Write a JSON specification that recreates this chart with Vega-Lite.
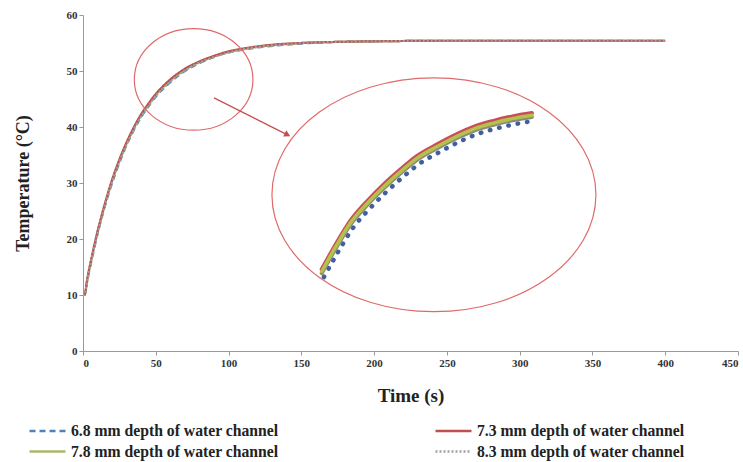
{
  "$schema": "https://vega.github.io/schema/vega-lite/v6.json",
  "width": 655,
  "height": 336,
  "autosize": "none",
  "padding": {"left": 83, "top": 15, "right": 5, "bottom": 111},
  "background": "white",
  "config": {
    "view": {"stroke": null},
    "font": "Liberation Serif",
    "legend": {"orient": "none", "legendX": -55, "legendY": 405, "columns": 2, "columnPadding": 151, "rowPadding": 2, "symbolType": "M-1,0L3,0", "symbolSize": 324, "symbolStrokeWidth": 2.5, "labelOffset": 22, "labelFont": "Liberation Serif", "labelFontWeight": "bold", "labelFontSize": 15.7, "labelColor": "#222", "labelLimit": 0, "title": null}
  },
  "datasets": {
    "main": [
      {"t":0,"T":10,"s":"6.8"},{"t":1,"T":10,"s":"6.8"},{"t":3,"T":12.6,"s":"6.8"},{"t":5,"T":15.1,"s":"6.8"},{"t":7,"T":17.5,"s":"6.8"},{"t":10,"T":20.9,"s":"6.8"},{"t":13,"T":23.9,"s":"6.8"},{"t":16,"T":26.7,"s":"6.8"},{"t":20,"T":30.0,"s":"6.8"},{"t":25,"T":33.6,"s":"6.8"},{"t":30,"T":36.8,"s":"6.8"},{"t":35,"T":39.5,"s":"6.8"},{"t":40,"T":41.8,"s":"6.8"},{"t":45,"T":43.7,"s":"6.8"},{"t":50,"T":45.4,"s":"6.8"},{"t":55,"T":46.8,"s":"6.8"},{"t":60,"T":48.0,"s":"6.8"},{"t":70,"T":50.0,"s":"6.8"},{"t":80,"T":51.4,"s":"6.8"},{"t":90,"T":52.5,"s":"6.8"},{"t":100,"T":53.3,"s":"6.8"},{"t":110,"T":53.8,"s":"6.8"},{"t":120,"T":54.2,"s":"6.8"},{"t":135,"T":54.6,"s":"6.8"},{"t":150,"T":54.9,"s":"6.8"},{"t":175,"T":55.2,"s":"6.8"},{"t":200,"T":55.3,"s":"6.8"},{"t":250,"T":55.4,"s":"6.8"},{"t":300,"T":55.4,"s":"6.8"},{"t":350,"T":55.4,"s":"6.8"},{"t":400,"T":55.4,"s":"6.8"},
      {"t":0,"T":10,"s":"7.8"},{"t":1,"T":10,"s":"7.8"},{"t":3,"T":12.8,"s":"7.8"},{"t":5,"T":15.4,"s":"7.8"},{"t":7,"T":17.8,"s":"7.8"},{"t":10,"T":21.2,"s":"7.8"},{"t":13,"T":24.2,"s":"7.8"},{"t":16,"T":27.0,"s":"7.8"},{"t":20,"T":30.4,"s":"7.8"},{"t":25,"T":34.0,"s":"7.8"},{"t":30,"T":37.1,"s":"7.8"},{"t":35,"T":39.8,"s":"7.8"},{"t":40,"T":42.1,"s":"7.8"},{"t":45,"T":44.0,"s":"7.8"},{"t":50,"T":45.7,"s":"7.8"},{"t":55,"T":47.1,"s":"7.8"},{"t":60,"T":48.3,"s":"7.8"},{"t":70,"T":50.2,"s":"7.8"},{"t":80,"T":51.6,"s":"7.8"},{"t":90,"T":52.6,"s":"7.8"},{"t":100,"T":53.4,"s":"7.8"},{"t":110,"T":53.9,"s":"7.8"},{"t":120,"T":54.3,"s":"7.8"},{"t":135,"T":54.7,"s":"7.8"},{"t":150,"T":55.0,"s":"7.8"},{"t":175,"T":55.2,"s":"7.8"},{"t":200,"T":55.3,"s":"7.8"},{"t":250,"T":55.4,"s":"7.8"},{"t":300,"T":55.4,"s":"7.8"},{"t":350,"T":55.4,"s":"7.8"},{"t":400,"T":55.4,"s":"7.8"},
      {"t":0,"T":10,"s":"7.3"},{"t":1,"T":10,"s":"7.3"},{"t":3,"T":13.0,"s":"7.3"},{"t":5,"T":15.6,"s":"7.3"},{"t":7,"T":18.0,"s":"7.3"},{"t":10,"T":21.4,"s":"7.3"},{"t":13,"T":24.4,"s":"7.3"},{"t":16,"T":27.2,"s":"7.3"},{"t":20,"T":30.6,"s":"7.3"},{"t":25,"T":34.2,"s":"7.3"},{"t":30,"T":37.3,"s":"7.3"},{"t":35,"T":40.0,"s":"7.3"},{"t":40,"T":42.3,"s":"7.3"},{"t":45,"T":44.2,"s":"7.3"},{"t":50,"T":45.9,"s":"7.3"},{"t":55,"T":47.3,"s":"7.3"},{"t":60,"T":48.5,"s":"7.3"},{"t":70,"T":50.4,"s":"7.3"},{"t":80,"T":51.7,"s":"7.3"},{"t":90,"T":52.7,"s":"7.3"},{"t":100,"T":53.5,"s":"7.3"},{"t":110,"T":54.0,"s":"7.3"},{"t":120,"T":54.4,"s":"7.3"},{"t":135,"T":54.8,"s":"7.3"},{"t":150,"T":55.0,"s":"7.3"},{"t":175,"T":55.2,"s":"7.3"},{"t":200,"T":55.3,"s":"7.3"},{"t":250,"T":55.4,"s":"7.3"},{"t":300,"T":55.4,"s":"7.3"},{"t":350,"T":55.4,"s":"7.3"},{"t":400,"T":55.4,"s":"7.3"},
      {"t":0,"T":10,"s":"8.3"},{"t":1,"T":10,"s":"8.3"},{"t":3,"T":12.7,"s":"8.3"},{"t":5,"T":15.3,"s":"8.3"},{"t":7,"T":17.7,"s":"8.3"},{"t":10,"T":21.0,"s":"8.3"},{"t":13,"T":24.0,"s":"8.3"},{"t":16,"T":26.9,"s":"8.3"},{"t":20,"T":30.2,"s":"8.3"},{"t":25,"T":33.8,"s":"8.3"},{"t":30,"T":36.9,"s":"8.3"},{"t":35,"T":39.6,"s":"8.3"},{"t":40,"T":41.9,"s":"8.3"},{"t":45,"T":43.8,"s":"8.3"},{"t":50,"T":45.5,"s":"8.3"},{"t":55,"T":46.9,"s":"8.3"},{"t":60,"T":48.1,"s":"8.3"},{"t":70,"T":50.1,"s":"8.3"},{"t":80,"T":51.5,"s":"8.3"},{"t":90,"T":52.5,"s":"8.3"},{"t":100,"T":53.3,"s":"8.3"},{"t":110,"T":53.9,"s":"8.3"},{"t":120,"T":54.3,"s":"8.3"},{"t":135,"T":54.7,"s":"8.3"},{"t":150,"T":55.0,"s":"8.3"},{"t":175,"T":55.2,"s":"8.3"},{"t":200,"T":55.3,"s":"8.3"},{"t":250,"T":55.4,"s":"8.3"},{"t":300,"T":55.4,"s":"8.3"},{"t":350,"T":55.4,"s":"8.3"},{"t":400,"T":55.4,"s":"8.3"}
    ],
    "inset": [
      {"t":165.5,"T":13.2,"s":"6.8"},{"t":175.5,"T":17.8,"s":"6.8"},{"t":185,"T":21.8,"s":"6.8"},{"t":196.5,"T":25.3,"s":"6.8"},{"t":208,"T":28.3,"s":"6.8"},{"t":219.5,"T":31.0,"s":"6.8"},{"t":231,"T":33.4,"s":"6.8"},{"t":245.5,"T":35.6,"s":"6.8"},{"t":260.5,"T":37.6,"s":"6.8"},{"t":271.5,"T":38.8,"s":"6.8"},{"t":283.5,"T":39.7,"s":"6.8"},{"t":296.5,"T":40.5,"s":"6.8"},{"t":310,"T":41.1,"s":"6.8"},
      {"t":164,"T":13.9,"s":"8.3"},{"t":174,"T":18.5,"s":"8.3"},{"t":183.5,"T":22.5,"s":"8.3"},{"t":195,"T":26.0,"s":"8.3"},{"t":206.4,"T":29.0,"s":"8.3"},{"t":218,"T":31.7,"s":"8.3"},{"t":229.3,"T":34.1,"s":"8.3"},{"t":244,"T":36.3,"s":"8.3"},{"t":259.1,"T":38.3,"s":"8.3"},{"t":270,"T":39.5,"s":"8.3"},{"t":282,"T":40.4,"s":"8.3"},{"t":295,"T":41.2,"s":"8.3"},{"t":308.4,"T":41.8,"s":"8.3"},
      {"t":164,"T":14.6,"s":"7.3"},{"t":174,"T":19.2,"s":"7.3"},{"t":183.5,"T":23.2,"s":"7.3"},{"t":195,"T":26.7,"s":"7.3"},{"t":206.4,"T":29.7,"s":"7.3"},{"t":218,"T":32.4,"s":"7.3"},{"t":229.3,"T":34.8,"s":"7.3"},{"t":244,"T":37.0,"s":"7.3"},{"t":259.1,"T":39.0,"s":"7.3"},{"t":270,"T":40.2,"s":"7.3"},{"t":282,"T":41.1,"s":"7.3"},{"t":295,"T":41.9,"s":"7.3"},{"t":308.4,"T":42.5,"s":"7.3"},
      {"t":164,"T":14.2,"s":"7.8"},{"t":174,"T":18.8,"s":"7.8"},{"t":183.5,"T":22.8,"s":"7.8"},{"t":195,"T":26.3,"s":"7.8"},{"t":206.4,"T":29.3,"s":"7.8"},{"t":218,"T":32.0,"s":"7.8"},{"t":229.3,"T":34.4,"s":"7.8"},{"t":244,"T":36.6,"s":"7.8"},{"t":259.1,"T":38.6,"s":"7.8"},{"t":270,"T":39.8,"s":"7.8"},{"t":282,"T":40.7,"s":"7.8"},{"t":295,"T":41.5,"s":"7.8"},{"t":308.4,"T":42.1,"s":"7.8"}
    ],
    "bigEllipse": [{"t": 241.1, "T": 27.9}],
    "smallEllipse": [{"t": 76.0, "T": 48.5}],
    "arrow": [{"t": 90.0, "T": 45.2, "t2": 140.5, "T2": 38.6}]
  },
  "encoding": {
    "x": {"field": "t", "type": "quantitative", "scale": {"domain": [0, 450], "nice": false, "zero": false}, "title": "Time (s)",
      "axis": {"values": [0, 50, 100, 150, 200, 250, 300, 350, 400, 450], "labelFont": "Liberation Serif", "labelFontWeight": "bold", "labelFontSize": 11, "labelColor": "#333", "domainColor": "#999", "tickColor": "#999", "tickSize": 4, "grid": false, "titleFont": "Liberation Serif", "titleFontWeight": "bold", "titleFontSize": 19, "titleColor": "#222", "titlePadding": 18}},
    "y": {"field": "T", "type": "quantitative", "scale": {"domain": [0, 60], "nice": false}, "title": "Temperature  (°C)",
      "axis": {"values": [0, 10, 20, 30, 40, 50, 60], "labelFont": "Liberation Serif", "labelFontWeight": "bold", "labelFontSize": 11, "labelColor": "#333", "domainColor": "#999", "tickColor": "#999", "tickSize": 4, "grid": false, "titleFont": "Liberation Serif", "titleFontWeight": "bold", "titleFontSize": 18, "titleColor": "#222", "titlePadding": 34}}
  },
  "layer": [
    {
      "data": {"name": "main"},
      "mark": {"type": "line", "strokeWidth": 2.2, "interpolate": "monotone"},
      "encoding": {
        "color": {"field": "s", "type": "nominal", "sort": ["6.8", "7.8", "7.3", "8.3"], "scale": {"domain": ["6.8", "7.8", "7.3", "8.3"], "range": ["#4F81BD", "#A9B86A", "#C0504D", "#A0A0A0"]}, "legend": {"labelExpr": "datum.label + ' mm depth of water channel'"}},
        "strokeDash": {"field": "s", "type": "nominal", "sort": ["6.8", "7.8", "7.3", "8.3"], "scale": {"domain": ["6.8", "7.8", "7.3", "8.3"], "range": [[6, 4], [1, 0], [1, 0], [2, 2]]}, "legend": {"labelExpr": "datum.label + ' mm depth of water channel'"}}
      }
    },
    {
      "data": {"name": "inset"},
      "transform": [{"filter": "datum.s == '6.8'"}],
      "mark": {"type": "line", "strokeWidth": 4.5, "strokeCap": "round", "strokeDash": [0.5, 9], "color": "#3F5F9F", "interpolate": "monotone"},
      "encoding": {}
    },
    {
      "data": {"name": "inset"},
      "transform": [{"filter": "datum.s == '8.3'"}],
      "mark": {"type": "line", "strokeWidth": 4, "strokeCap": "round", "color": "#8A8A7A", "interpolate": "monotone"},
      "encoding": {}
    },
    {
      "data": {"name": "inset"},
      "transform": [{"filter": "datum.s == '7.3'"}],
      "mark": {"type": "line", "strokeWidth": 4, "strokeCap": "round", "color": "#C84E5A", "interpolate": "monotone"},
      "encoding": {}
    },
    {
      "data": {"name": "inset"},
      "transform": [{"filter": "datum.s == '7.8'"}],
      "mark": {"type": "line", "strokeWidth": 3.5, "strokeCap": "round", "color": "#B5C24A", "interpolate": "monotone"},
      "encoding": {}
    },
    {
      "data": {"name": "bigEllipse"},
      "mark": {"type": "point", "shape": "M-1,0A1,0.722,0,1,1,1,0A1,0.722,0,1,1,-1,0Z", "size": 104976, "filled": false, "stroke": "#E06A6A", "strokeWidth": 1.2, "opacity": 1},
      "encoding": {}
    },
    {
      "data": {"name": "smallEllipse"},
      "mark": {"type": "point", "shape": "M-1,0A1,0.857,0,1,1,1,0A1,0.857,0,1,1,-1,0Z", "size": 14066, "filled": false, "stroke": "#E06A6A", "strokeWidth": 1.2, "opacity": 1},
      "encoding": {}
    },
    {
      "data": {"name": "arrow"},
      "mark": {"type": "rule", "color": "#C0504D", "strokeWidth": 1.2},
      "encoding": {"x2": {"field": "t2"}, "y2": {"field": "T2"}}
    },
    {
      "data": {"name": "arrow"},
      "mark": {"type": "point", "shape": "triangle-right", "filled": true, "color": "#C0504D", "size": 50, "opacity": 1, "angle": 26.7},
      "encoding": {"x": {"field": "t2", "type": "quantitative"}, "y": {"field": "T2", "type": "quantitative"}}
    }
  ]
}
